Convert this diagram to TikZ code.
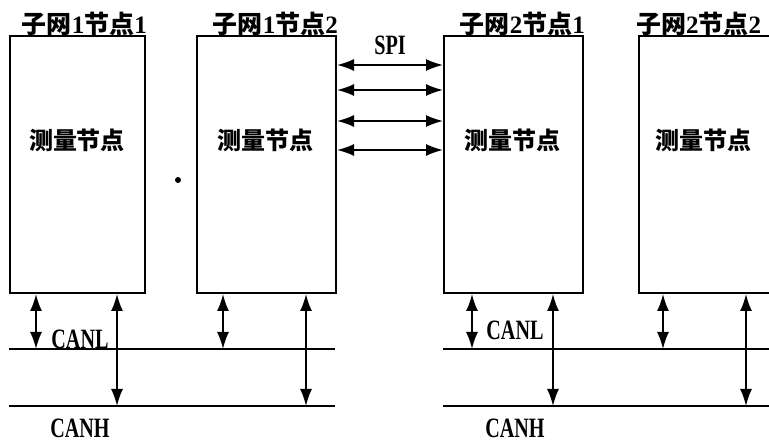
\documentclass[tikz,border=0pt]{standalone}
\usepackage{fontspec}
\usetikzlibrary{arrows.meta}
\setmainfont{Liberation Serif}
\newfontfamily\cjk{Noto Sans CJK SC}
\newfontfamily\condfont{Liberation Serif Bold}[FakeStretch=0.72]
\begin{document}
\begin{tikzpicture}[x=1pt,y=-1pt,
  box/.style={draw,line width=2pt,inner sep=0pt,anchor=north west,minimum height=257pt},
  title/.style={anchor=south east,inner sep=0pt,font=\bfseries\fontsize{25}{25}\selectfont},
  meas/.style={inner sep=0pt,font=\cjk\bfseries\fontsize{24}{24}\selectfont},
  lab/.style={inner sep=0pt,font=\condfont\fontsize{28}{28}\selectfont},
  bus/.style={line width=1.8pt},
  dbl/.style={line width=1.8pt,{Latex[length=17pt,width=12pt]}-{Latex[length=17pt,width=12pt]}}]
\useasboundingbox (0,0) rectangle (769,443);
\clip (0,0) rectangle (769,443);
% boxes
\node[box,minimum width=135pt] (b1) at (9,35) {};
\node[box,minimum width=139pt] (b2) at (196,35) {};
\node[box,minimum width=139pt] (b3) at (443,35) {};
\node[box,minimum width=137pt] (b4) at (638,35) {};
% titles
\node[title] (t1) at ([xshift=1pt,yshift=-1pt]b1.north east) {{\cjk 子网}1{\cjk 节点}1};
\node[title] (t2) at ([xshift=1pt,yshift=-1pt]b2.north east) {{\cjk 子网}1{\cjk 节点}2};
\node[title] (t3) at ([xshift=1pt,yshift=-1pt]b3.north east) {{\cjk 子网}2{\cjk 节点}1};
\node[title,anchor=south west] (t4) at ([xshift=-2pt,yshift=-1pt]b4.north west) {{\cjk 子网}2{\cjk 节点}2};
% inner labels
\node[meas] (m1) at (77,140) {测量节点};
\node[meas] (m2) at (265,140) {测量节点};
\node[meas] (m3) at (512,140) {测量节点};
\node[meas] (m4) at (703,140) {测量节点};
% SPI
\node[lab] (spi) at (390,45) {SPI};
\foreach \yy/\n in {65/a,90/b,121/c,150/d}{
  \coordinate (s\n) at (b2.east |- 0,\yy);
  \coordinate (e\n) at (b3.west |- 0,\yy);
  \draw[dbl] (s\n) -- (e\n);
}
% buses
\coordinate (L1) at (9,349);   \coordinate (L2) at (335,349);
\coordinate (H1) at (9,406);   \coordinate (H2) at (335,406);
\coordinate (L3) at (443,349); \coordinate (L4) at (780,349);
\coordinate (H3) at (443,406); \coordinate (H4) at (780,406);
\draw[bus] (L1) -- (L2);
\draw[bus] (H1) -- (H2);
\draw[bus] (L3) -- (L4);
\draw[bus] (H3) -- (H4);
% vertical arrows
\draw[dbl] (b1.south -| 36,0) -- (L1 -| 36,0);
\draw[dbl] (b1.south -| 117,0) -- (H1 -| 117,0);
\draw[dbl] (b2.south -| 223,0) -- (L1 -| 223,0);
\draw[dbl] (b2.south -| 306,0) -- (H1 -| 306,0);
\draw[dbl] (b3.south -| 472,0) -- (L3 -| 472,0);
\draw[dbl] (b3.south -| 553,0) -- (H3 -| 553,0);
\draw[dbl] (b4.south -| 663,0) -- (L3 -| 663,0);
\draw[dbl] (b4.south -| 746,0) -- (H3 -| 746,0);
% bus labels
\node[lab] (cl1) at (80,339) {CANL};
\node[lab] (ch1) at (80,428) {CANH};
\node[lab] (cl2) at (515,330) {CANL};
\node[lab] (ch2) at (515,428) {CANH};
% stray dot
\fill (178,180) circle (3pt);
\end{tikzpicture}
\end{document}
